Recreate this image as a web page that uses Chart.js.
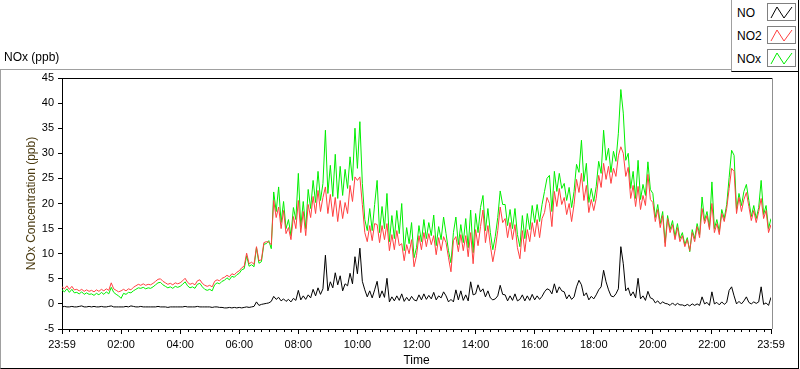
<!DOCTYPE html>
<html>
<head>
<meta charset="utf-8">
<script src="https://cdn.jsdelivr.net/npm/chart.js@4.4.1/dist/chart.umd.min.js"></script>
<style>
  body { margin: 0; background: #fff; font-family: "Liberation Sans", Arial, sans-serif; color: #000; }
  #wrap { position: relative; width: 800px; height: 369px; overflow: hidden; }
  #chart { position: absolute; left: 0; top: 0; }
  #frame { position: absolute; left: 0; top: 69px; width: 797px; height: 298px;
    border-top: 1px solid #a0a0a0; border-left: 1px solid #a0a0a0;
    border-right: 1px solid #000; border-bottom: 1px solid #000; pointer-events: none; }
  #title { position: absolute; left: 4px; top: 50px; font-size: 12px; }
  #legend { position: absolute; left: 731px; top: 0; width: 66px; height: 71px; background: #fff;
    border-left: 1px solid #a0a0a0; border-right: 1px solid #000; border-bottom: 1px solid #000; }
  .row { position: absolute; left: 0; width: 66px; height: 20px; font-size: 12px; }
  .row span { position: absolute; left: 5px; top: 3px; }
  .row svg { position: absolute; left: 35px; top: 0; }
</style>
</head>
<body>
<div id="wrap">
  <canvas id="chart" width="800" height="369"></canvas>
  <div id="frame"></div>
  <div id="title">NOx (ppb)</div>
  <div id="legend"></div>
</div>
<script>
// 5 minute readings, 23:59 to 23:59, one hour per line
const no = [
  -0.6, -0.5, -0.6, -0.6, -0.5, -0.6, -0.6, -0.5, -0.4, -0.6, -0.6, -0.5,
  -0.6, -0.5, -0.6, -0.6, -0.5, -0.6, -0.6, -0.5, -0.4, -0.6, -0.6, -0.6,
  -0.6, -0.6, -0.5, -0.6, -0.4, -0.5, -0.6, -0.6, -0.5, -0.6, -0.6, -0.6,
  -0.6, -0.6, -0.6, -0.5, -0.6, -0.6, -0.6, -0.7, -0.6, -0.6, -0.6, -0.6,
  -0.6, -0.6, -0.5, -0.6, -0.6, -0.6, -0.6, -0.5, -0.6, -0.6, -0.6, -0.6,
  -0.6, -0.7, -0.6, -0.6, -0.7, -0.7, -0.8, -0.8, -0.7, -0.8, -0.7, -0.8,
  -0.7, -0.8, -0.7, -0.6, -0.7, -0.6, -0.5, 0.4, -0.3, -0.1, 0.0, 0.1,
  0.2, 0.5, 1.5, 0.9, 1.3, 0.6, 1.0, 0.5, 0.9, 0.4, 1.1, 0.7,
  2.7, 0.8, 1.6, 0.9, 1.8, 1.2, 2.9, 1.6, 3.2, 1.9, 3.0, 9.7,
  2.6, 4.4, 3.2, 6.2, 3.8, 5.6, 2.6, 4.0, 3.6, 6.1, 4.0, 9.4,
  6.0, 11.1, 4.5, 2.8, 1.4, 2.6, 1.2, 2.8, 4.5, 1.2, 2.6, 1.3,
  5.1, 0.4, 1.4, 0.6, 1.6, 0.7, 2.0, 0.5, 1.3, 0.6, 1.5, 0.8,
  0.6, 1.8, 0.8, 2.0, 0.9, 1.7, 1.0, 2.3, 0.8, 1.6, 1.2, 2.4,
  1.6, 0.4, 0.9, 0.4, 2.8, 0.8, 2.6, 0.7, 1.8, 0.6, 4.4, 1.8,
  2.0, 3.8, 2.4, 3.0, 1.4, 2.6, 1.2, 0.8, 1.0, 1.6, 3.7, 1.9,
  1.8, 0.6, 1.6, 0.7, 2.0, 0.6, 0.9, 1.8, 0.6, 1.6, 0.7, 1.9,
  0.8, 1.6, 0.9, 1.5, 2.4, 3.0, 2.8, 2.0, 4.0, 2.2, 3.4, 2.6,
  2.4, 1.0, 1.8, 0.9, 1.4, 3.4, 4.7, 3.8, 1.6, 2.2, 0.8, 1.5,
  1.0, 1.8, 2.8, 3.4, 6.7, 4.4, 2.8, 1.6, 1.4, 2.0, 3.0, 11.4,
  8.0, 2.6, 3.2, 1.6, 2.4, 1.2, 5.1, 1.0, 1.6, 0.7, 2.5, 1.2,
  1.0, 0.2, 0.6, 0.0, 0.4, 0.1, 0.0, -0.3, 0.2, -0.3, 0.1, -0.2,
  -0.2, -0.4, -0.1, -0.4, 0.0, -0.3, 0.0, -0.3, 1.4, 0.0, 0.3, -0.3,
  2.4, 0.0, 0.3, -0.2, 0.4, -0.1, 0.3, 2.7, 3.4, 1.6, 0.0, 0.5,
  0.0, 0.6, 1.4, 0.3, 0.0, 0.4, 0.1, 0.4, 3.4, -0.1, 0.2, -0.3,
  1.3
];

const no2 = [
  3.4, 3.0, 3.6, 2.9, 3.5, 2.8, 2.9, 2.6, 2.9, 2.5, 2.8, 2.5,
  2.7, 2.4, 2.8, 2.5, 2.9, 2.6, 3.0, 2.7, 4.2, 3.0, 2.7, 2.4,
  2.6, 2.9, 2.6, 3.0, 2.8, 3.3, 3.6, 3.9, 3.7, 4.0, 3.7, 3.9,
  3.8, 4.1, 4.5, 4.9, 5.0, 4.5, 4.2, 3.9, 4.1, 3.8, 4.2, 4.0,
  4.2, 4.6, 5.1, 4.3, 3.9, 4.1, 3.8, 4.6, 4.8, 4.1, 3.7, 3.5,
  3.7, 3.4, 4.5, 4.8, 4.6, 5.1, 5.3, 5.7, 5.4, 6.0, 5.8, 6.3,
  6.6, 7.2, 7.5, 10.1, 8.0, 8.3, 7.9, 11.4, 8.6, 8.8, 12.2, 12.4,
  12.3, 11.8, 20.6, 17.2, 19.3, 15.0, 18.6, 14.0, 15.2, 12.8, 17.4, 15.0,
  20.6, 14.2, 18.4, 13.6, 19.8, 17.2, 21.4, 18.0, 22.6, 18.4, 21.2, 23.3,
  18.0, 21.8, 17.4, 21.2, 16.4, 20.6, 17.0, 20.2, 18.0, 23.6, 20.4, 25.3,
  24.6, 25.3, 19.8, 14.2, 12.4, 15.6, 12.6, 16.0, 15.8, 12.2, 15.6, 12.8,
  16.0, 10.6, 13.8, 10.8, 14.6, 11.6, 12.0, 8.6, 11.8, 10.0, 12.8, 7.4,
  9.6, 13.6, 10.8, 14.2, 11.4, 14.0, 11.8, 13.6, 9.8, 13.2, 10.6, 13.4,
  12.2, 9.2, 6.4, 12.6, 13.4, 10.4, 13.8, 10.6, 13.6, 9.4, 14.2, 8.0,
  14.8, 11.6, 15.4, 18.7, 12.2, 15.6, 11.6, 8.4, 11.0, 14.6, 19.3, 16.2,
  17.0, 13.2, 16.2, 12.8, 15.8, 11.2, 9.0, 14.6, 10.4, 14.8, 12.4, 16.2,
  13.4, 16.8, 13.2, 17.0, 18.2, 21.2, 20.0, 15.4, 22.4, 19.4, 23.0, 19.8,
  21.2, 17.8, 20.0, 16.4, 19.8, 24.8, 22.2, 26.0, 20.6, 23.6, 18.2, 20.8,
  18.6, 21.0, 25.6, 23.2, 28.0, 24.8, 27.4, 24.0, 27.0, 25.4, 29.5, 31.3,
  30.0, 25.4, 27.2, 21.0, 23.6, 19.4, 23.4, 18.8, 21.6, 19.6, 25.8, 20.8,
  20.2, 16.4, 18.8, 15.2, 17.6, 11.4, 17.0, 14.2, 15.8, 12.8, 15.2, 12.4,
  13.6, 11.4, 12.8, 10.6, 14.2, 12.4, 15.4, 13.2, 19.0, 16.0, 17.6, 14.8,
  20.0, 14.2, 16.0, 13.8, 18.0, 16.4, 19.0, 23.0, 27.0, 26.4, 18.0, 21.2,
  18.4, 20.8, 22.2, 19.4, 16.6, 18.6, 16.2, 18.4, 21.0, 17.0, 18.6, 14.2,
  15.8
];

const nox = [
  2.8, 2.4, 3.0, 2.3, 2.9, 2.2, 2.3, 2.0, 2.4, 1.9, 2.2, 1.9,
  2.0, 1.7, 2.1, 1.8, 2.3, 1.9, 2.4, 2.0, 3.3, 2.3, 1.9, 1.6,
  1.1, 2.1, 1.9, 2.3, 2.2, 2.6, 2.9, 3.2, 3.1, 3.3, 3.0, 3.2,
  3.1, 3.4, 3.8, 4.2, 4.3, 3.8, 3.5, 3.2, 3.4, 3.1, 3.5, 3.3,
  3.5, 3.9, 4.4, 3.6, 3.2, 3.4, 3.1, 3.9, 4.1, 3.4, 2.9, 2.7,
  2.9, 2.6, 3.8, 4.2, 4.0, 4.5, 4.7, 5.2, 4.8, 5.5, 5.3, 5.8,
  6.1, 6.8, 7.0, 9.6, 7.5, 7.8, 7.4, 11.2, 8.1, 8.4, 11.9, 12.0,
  12.6, 11.0, 22.3, 18.4, 23.3, 16.2, 20.4, 15.0, 16.8, 13.6, 19.2, 16.8,
  26.0, 15.4, 20.4, 15.0, 22.8, 19.0, 24.6, 20.2, 26.4, 20.6, 24.0, 34.6,
  22.0, 27.6, 21.4, 29.8, 21.0, 27.4, 21.6, 26.8, 23.0, 29.3, 24.6, 35.0,
  27.0, 36.3, 24.0, 16.8, 14.6, 19.0, 14.6, 19.8, 24.6, 14.2, 19.4, 15.0,
  22.0, 12.4, 17.6, 13.0, 18.6, 14.0, 20.0, 10.6, 15.2, 12.0, 16.2, 9.2,
  11.2, 15.6, 12.4, 16.8, 13.0, 16.2, 13.6, 17.7, 11.6, 15.4, 12.8, 17.3,
  14.0, 10.6, 8.2, 14.2, 17.3, 11.8, 15.8, 12.2, 17.0, 11.2, 18.7, 10.2,
  18.0, 14.2, 19.2, 21.6, 14.6, 19.0, 14.2, 10.8, 13.4, 17.2, 22.5, 19.8,
  19.8, 15.6, 18.8, 15.0, 19.0, 13.8, 11.4, 17.6, 13.0, 18.0, 14.8, 19.6,
  16.2, 19.8, 16.4, 19.8, 22.4, 25.0, 25.6, 18.4, 26.4, 22.4, 26.0, 23.0,
  24.0, 20.6, 23.2, 19.2, 22.4, 27.8, 26.2, 32.6, 24.4, 28.0, 20.2, 23.0,
  20.4, 23.4, 28.4, 26.0, 34.6, 28.6, 31.0, 26.2, 30.4, 28.4, 34.0, 42.7,
  38.0, 28.6, 30.0, 23.0, 26.4, 21.0, 28.6, 20.8, 23.8, 21.6, 28.3, 22.8,
  22.0, 17.2, 19.8, 16.0, 18.4, 12.2, 17.6, 14.8, 16.6, 13.4, 16.0, 13.0,
  14.2, 11.8, 13.2, 10.4, 14.8, 13.0, 16.0, 13.8, 21.3, 16.6, 18.4, 15.2,
  24.3, 15.0, 16.8, 14.4, 18.8, 17.0, 19.8, 25.2, 30.6, 29.6, 18.8, 22.0,
  19.6, 22.4, 23.8, 20.6, 17.4, 19.6, 17.0, 19.2, 24.6, 17.8, 19.6, 15.0,
  17.0
];

const xTickMinutes = [0, 120, 240, 360, 480, 600, 720, 840, 960, 1080, 1200, 1320, 1440];
const xTickLabels = ['23:59', '02:00', '04:00', '06:00', '08:00', '10:00', '12:00',
  '14:00', '16:00', '18:00', '20:00', '22:00', '23:59'];

const seriesNames = ['NO', 'NO2', 'NOx'];
const seriesColors = ['#000000', '#ff4040', '#00ee00'];

const minutes = no.map((_, i) => i * 5);
const toPoints = arr => arr.map((v, i) => ({ x: minutes[i], y: v }));

// legend box, top right
const legend = document.getElementById('legend');
const rowTops = [3, 26, 49];
seriesNames.forEach((name, i) => {
  let row = document.createElement('div');
  row.className = 'row';
  row.style.top = rowTops[i] + 'px';
  row.innerHTML = `<span>${name}</span>
    <svg width="29" height="19">
      <rect x="0.5" y="0.5" width="28" height="17" fill="#fff" stroke="#808080"/>
      <polyline points="4,15 10,4 17,15 25,4" fill="none" stroke="${seriesColors[i]}" stroke-width="1"/>
    </svg>`;
  legend.appendChild(row);
});

// top + right edge of plot and 15 minute minor ticks
const frameLines = {
  id: 'frameLines',
  afterDraw(chart) {
    const { ctx, chartArea: a, scales: { x } } = chart;
    ctx.save();
    ctx.lineWidth = 1;
    ctx.strokeStyle = '#000';
    ctx.beginPath();
    ctx.moveTo(a.left, a.top + 0.5);
    ctx.lineTo(a.right + 1, a.top + 0.5);
    ctx.stroke();
    ctx.strokeStyle = '#909090';
    ctx.beginPath();
    ctx.moveTo(a.right + 1.5, a.top);
    ctx.lineTo(a.right + 1.5, a.bottom);
    ctx.stroke();
    ctx.strokeStyle = '#000';
    ctx.beginPath();
    for (let m = 15; m < 1440; m += 15) {
      if (m % 120 === 0) continue;
      let px = Math.round(x.getPixelForValue(m)) + 0.5;
      ctx.moveTo(px, a.bottom);
      ctx.lineTo(px, a.bottom + 3);
    }
    ctx.stroke();
    ctx.restore();
  }
};

new Chart(document.getElementById('chart'), {
  type: 'line',
  data: {
    datasets: [0, 1, 2].map(i => ({
      label: seriesNames[i],
      data: toPoints([no, no2, nox][i]),
      borderColor: seriesColors[i],
      borderWidth: 1,
      pointRadius: 0,
      tension: 0
    }))
  },
  options: {
    responsive: false,
    animation: false,
    layout: { padding: { top: 78, right: 29, left: 0, bottom: 0 } },
    plugins: {
      legend: { display: false },
      tooltip: { enabled: false }
    },
    scales: {
      x: {
        type: 'linear',
        min: 0,
        max: 1440,
        afterBuildTicks: scale => { scale.ticks = xTickMinutes.map(v => ({ value: v })); },
        afterFit: scale => { scale.height = 40; },
        ticks: {
          callback: (v, i) => xTickLabels[i],
          font: { family: '"Liberation Sans", Arial', size: 11 },
          color: '#000',
          padding: 4,
          maxRotation: 0,
          autoSkip: false
        },
        grid: { drawOnChartArea: false, tickLength: 5, color: '#000' },
        border: { color: '#000' },
        title: {
          display: true,
          text: 'Time',
          font: { family: '"Liberation Sans", Arial', size: 12 },
          color: '#000',
          padding: { top: 0, bottom: 1 }
        }
      },
      y: {
        min: -5,
        max: 45,
        afterFit: scale => { scale.width = 62; },
        ticks: {
          stepSize: 5,
          font: { family: '"Liberation Sans", Arial', size: 11 },
          color: '#000',
          padding: 4
        },
        grid: { drawOnChartArea: false, tickLength: 4, color: '#000' },
        border: { color: '#000' },
        title: {
          display: true,
          text: 'NOx Concentration (ppb)',
          font: { family: '"Liberation Sans", Arial', size: 12 },
          color: '#4a3a10',
          padding: { top: 24, bottom: 0 }
        }
      }
    }
  },
  plugins: [frameLines]
});
</script>
</body>
</html>
